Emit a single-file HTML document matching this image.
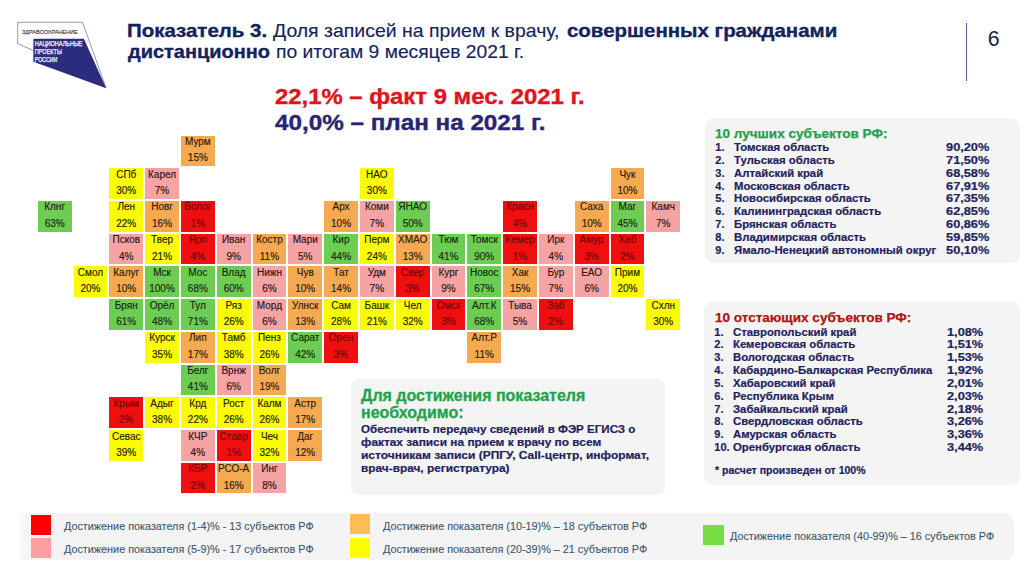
<!DOCTYPE html>
<html><head><meta charset="utf-8">
<style>
*{margin:0;padding:0;box-sizing:border-box}
html,body{width:1024px;height:574px;overflow:hidden;background:#fff;font-family:"Liberation Sans",sans-serif}
.abs{position:absolute}
.c{position:absolute;width:33.9px;height:30.8px;font-size:10px;color:#1e1e1e;text-align:center;-webkit-text-stroke:0.15px currentColor}
.c .n{position:absolute;left:-4px;right:-4px;top:0.6px;line-height:11px;white-space:nowrap}
.c .p{position:absolute;left:-4px;right:-4px;top:16.9px;line-height:11px;white-space:nowrap}
.R{background:#ef0f0f;color:#6e0505}
.P{background:#f5a3a3;color:#2a1616}
.O{background:#f5aa52;color:#2a1a0c}
.Y{background:#fbfb05;color:#222200}
.G{background:#6dcd53;color:#142a10}
.title{position:absolute;left:127px;top:21.3px;font-size:18.5px;line-height:20.4px;color:#14235a;white-space:nowrap;transform:scaleX(1.085);transform-origin:0 0}
.tt{position:absolute;font-size:18.5px;line-height:20.4px;color:#14235a;white-space:nowrap;transform-origin:0 0;-webkit-text-stroke:0.15px #14235a}
.tt.b{font-weight:bold;-webkit-text-stroke:0.35px #14235a}
.title b{font-weight:bold}
.big{position:absolute;left:275px;font-size:22.8px;font-weight:bold;white-space:nowrap;line-height:24px;transform:scaleX(1.047);transform-origin:0 0;-webkit-text-stroke:0.4px currentColor}
.panel{position:absolute;background:#f4f4f4;border-radius:9px}
.li{position:absolute;left:0;right:0;height:13px;font-size:11px;font-weight:bold;color:#1f1f5c;line-height:13px;white-space:nowrap;-webkit-text-stroke:0.2px #1f1f5c}
.li .num{position:absolute;left:10.3px}
.li .txt{position:absolute;left:29px;transform:scaleX(1.03);transform-origin:0 0}
.li .pc{position:absolute;transform:scaleX(1.16);transform-origin:100% 0}
.leg{position:absolute;font-size:10.5px;color:#3d566e;white-space:nowrap;line-height:12px;-webkit-text-stroke:0.1px #3d566e;transform:scaleX(1.03);transform-origin:0 0}
.sq{position:absolute;width:20px;height:20px}
.bl{position:absolute;left:10.2px;font-size:11px;font-weight:bold;color:#222260;line-height:12.6px;white-space:nowrap;-webkit-text-stroke:0.2px #222260;transform-origin:0 0}
</style></head><body>
<svg class="abs" style="left:0;top:0" width="120" height="100" viewBox="0 0 120 100">
<polyline points="33.6,50.6 17.7,43.6 17.7,22.3 82.5,22.3 106.2,88.2" fill="none" stroke="#6b6b95" stroke-width="0.7"/>
<polygon points="33.4,38.7 83.9,38.7 106.2,88.2 33.4,61.7" fill="#2c2c7e"/>
<text x="21.9" y="33.8" font-family="Liberation Sans" font-size="5.8" fill="#2a2a3a" stroke="#2a2a3a" stroke-width="0.1" textLength="55.7" lengthAdjust="spacingAndGlyphs">ЗДРАВООХРАНЕНИЕ</text>
<text x="34.8" y="46.4" font-family="Liberation Sans" font-size="7.7" fill="#fff" stroke="#fff" stroke-width="0.25" textLength="47.7" lengthAdjust="spacingAndGlyphs">НАЦИОНАЛЬНЫЕ</text>
<text x="34.8" y="54.3" font-family="Liberation Sans" font-size="7.7" fill="#fff" stroke="#fff" stroke-width="0.25" textLength="27.1" lengthAdjust="spacingAndGlyphs">ПРОЕКТЫ</text>
<text x="34.8" y="61.7" font-family="Liberation Sans" font-size="7.7" fill="#fff" stroke="#fff" stroke-width="0.25" textLength="22.6" lengthAdjust="spacingAndGlyphs">РОССИИ</text>
</svg>
<div class="tt b" style="left:126.9px;top:21.2px;transform:scaleX(1.106)">Показатель 3.</div>
<div class="tt" style="left:273.3px;top:21.2px;transform:scaleX(1.051)">Доля записей на прием к врачу,</div>
<div class="tt b" style="left:566.8px;top:21.2px;transform:scaleX(1.105)">совершенных гражданами</div>
<div class="tt b" style="left:128px;top:41.7px;transform:scaleX(1.079)">дистанционно</div>
<div class="tt" style="left:276.3px;top:41.7px;transform:scaleX(1.042)">по итогам 9 месяцев 2021 г.</div>
<div class="abs" style="left:966px;top:22.5px;width:1.3px;height:58px;background:#5c5c8c"></div>
<div class="abs" style="left:987.7px;top:26.7px;font-size:21.3px;line-height:24px;color:#1c1c44">6</div>
<div class="big" style="top:84px;color:#e0141e">22,1% – факт 9 мес. 2021 г.</div>
<div class="big" style="top:109.5px;color:#262673;transform:scaleX(1.063)">40,0% – план на 2021 г.</div>
<div class="c O" style="left:180.9px;top:135.5px"><span class="n">Мурм</span><span class="p">15%</span></div>
<div class="c Y" style="left:109.3px;top:168.2px"><span class="n">СПб</span><span class="p">30%</span></div>
<div class="c P" style="left:145.1px;top:168.2px"><span class="n">Карел</span><span class="p">7%</span></div>
<div class="c Y" style="left:359.9px;top:168.2px"><span class="n">НАО</span><span class="p">30%</span></div>
<div class="c O" style="left:610.5px;top:168.2px"><span class="n">Чук</span><span class="p">10%</span></div>
<div class="c G" style="left:37.7px;top:200.9px"><span class="n">Клнг</span><span class="p">63%</span></div>
<div class="c Y" style="left:109.3px;top:200.9px"><span class="n">Лен</span><span class="p">22%</span></div>
<div class="c O" style="left:145.1px;top:200.9px"><span class="n">Новг</span><span class="p">16%</span></div>
<div class="c R" style="left:180.9px;top:200.9px"><span class="n">Волог</span><span class="p">1%</span></div>
<div class="c O" style="left:324.1px;top:200.9px"><span class="n">Арх</span><span class="p">10%</span></div>
<div class="c P" style="left:359.9px;top:200.9px"><span class="n">Коми</span><span class="p">7%</span></div>
<div class="c G" style="left:395.7px;top:200.9px"><span class="n">ЯНАО</span><span class="p">50%</span></div>
<div class="c R" style="left:503.1px;top:200.9px"><span class="n">Красн</span><span class="p">4%</span></div>
<div class="c O" style="left:574.7px;top:200.9px"><span class="n">Саха</span><span class="p">10%</span></div>
<div class="c G" style="left:610.5px;top:200.9px"><span class="n">Маг</span><span class="p">45%</span></div>
<div class="c P" style="left:646.3px;top:200.9px"><span class="n">Камч</span><span class="p">7%</span></div>
<div class="c P" style="left:109.3px;top:233.7px"><span class="n">Псков</span><span class="p">4%</span></div>
<div class="c Y" style="left:145.1px;top:233.7px"><span class="n">Твер</span><span class="p">21%</span></div>
<div class="c R" style="left:180.9px;top:233.7px"><span class="n">Яро</span><span class="p">4%</span></div>
<div class="c P" style="left:216.7px;top:233.7px"><span class="n">Иван</span><span class="p">9%</span></div>
<div class="c O" style="left:252.5px;top:233.7px"><span class="n">Костр</span><span class="p">11%</span></div>
<div class="c P" style="left:288.3px;top:233.7px"><span class="n">Мари</span><span class="p">5%</span></div>
<div class="c G" style="left:324.1px;top:233.7px"><span class="n">Кир</span><span class="p">44%</span></div>
<div class="c Y" style="left:359.9px;top:233.7px"><span class="n">Перм</span><span class="p">24%</span></div>
<div class="c O" style="left:395.7px;top:233.7px"><span class="n">ХМАО</span><span class="p">13%</span></div>
<div class="c G" style="left:431.5px;top:233.7px"><span class="n">Тюм</span><span class="p">41%</span></div>
<div class="c G" style="left:467.3px;top:233.7px"><span class="n">Томск</span><span class="p">90%</span></div>
<div class="c R" style="left:503.1px;top:233.7px"><span class="n">Кемер</span><span class="p">1%</span></div>
<div class="c P" style="left:538.9px;top:233.7px"><span class="n">Ирк</span><span class="p">4%</span></div>
<div class="c R" style="left:574.7px;top:233.7px"><span class="n">Амур</span><span class="p">3%</span></div>
<div class="c R" style="left:610.5px;top:233.7px"><span class="n">Хаб</span><span class="p">2%</span></div>
<div class="c Y" style="left:73.5px;top:266.4px"><span class="n">Смол</span><span class="p">20%</span></div>
<div class="c O" style="left:109.3px;top:266.4px"><span class="n">Калуг</span><span class="p">10%</span></div>
<div class="c G" style="left:145.1px;top:266.4px"><span class="n">Мск</span><span class="p">100%</span></div>
<div class="c G" style="left:180.9px;top:266.4px"><span class="n">Мос</span><span class="p">68%</span></div>
<div class="c G" style="left:216.7px;top:266.4px"><span class="n">Влад</span><span class="p">60%</span></div>
<div class="c P" style="left:252.5px;top:266.4px"><span class="n">Нижн</span><span class="p">6%</span></div>
<div class="c O" style="left:288.3px;top:266.4px"><span class="n">Чув</span><span class="p">10%</span></div>
<div class="c O" style="left:324.1px;top:266.4px"><span class="n">Тат</span><span class="p">14%</span></div>
<div class="c P" style="left:359.9px;top:266.4px"><span class="n">Удм</span><span class="p">7%</span></div>
<div class="c R" style="left:395.7px;top:266.4px"><span class="n">Свер</span><span class="p">3%</span></div>
<div class="c P" style="left:431.5px;top:266.4px"><span class="n">Кург</span><span class="p">9%</span></div>
<div class="c G" style="left:467.3px;top:266.4px"><span class="n">Новос</span><span class="p">67%</span></div>
<div class="c O" style="left:503.1px;top:266.4px"><span class="n">Хак</span><span class="p">15%</span></div>
<div class="c P" style="left:538.9px;top:266.4px"><span class="n">Бур</span><span class="p">7%</span></div>
<div class="c P" style="left:574.7px;top:266.4px"><span class="n">ЕАО</span><span class="p">6%</span></div>
<div class="c Y" style="left:610.5px;top:266.4px"><span class="n">Прим</span><span class="p">20%</span></div>
<div class="c G" style="left:109.3px;top:299.1px"><span class="n">Брян</span><span class="p">61%</span></div>
<div class="c G" style="left:145.1px;top:299.1px"><span class="n">Орёл</span><span class="p">48%</span></div>
<div class="c G" style="left:180.9px;top:299.1px"><span class="n">Тул</span><span class="p">71%</span></div>
<div class="c Y" style="left:216.7px;top:299.1px"><span class="n">Ряз</span><span class="p">26%</span></div>
<div class="c P" style="left:252.5px;top:299.1px"><span class="n">Морд</span><span class="p">6%</span></div>
<div class="c O" style="left:288.3px;top:299.1px"><span class="n">Улнск</span><span class="p">13%</span></div>
<div class="c Y" style="left:324.1px;top:299.1px"><span class="n">Сам</span><span class="p">28%</span></div>
<div class="c Y" style="left:359.9px;top:299.1px"><span class="n">Башк</span><span class="p">21%</span></div>
<div class="c Y" style="left:395.7px;top:299.1px"><span class="n">Чел</span><span class="p">32%</span></div>
<div class="c R" style="left:431.5px;top:299.1px"><span class="n">Омск</span><span class="p">3%</span></div>
<div class="c G" style="left:467.3px;top:299.1px"><span class="n">Алт.К</span><span class="p">68%</span></div>
<div class="c P" style="left:503.1px;top:299.1px"><span class="n">Тыва</span><span class="p">5%</span></div>
<div class="c R" style="left:538.9px;top:299.1px"><span class="n">Заб</span><span class="p">2%</span></div>
<div class="c Y" style="left:646.3px;top:299.1px"><span class="n">Схлн</span><span class="p">30%</span></div>
<div class="c Y" style="left:145.1px;top:331.8px"><span class="n">Курск</span><span class="p">35%</span></div>
<div class="c O" style="left:180.9px;top:331.8px"><span class="n">Лип</span><span class="p">17%</span></div>
<div class="c Y" style="left:216.7px;top:331.8px"><span class="n">Тамб</span><span class="p">38%</span></div>
<div class="c Y" style="left:252.5px;top:331.8px"><span class="n">Пенз</span><span class="p">26%</span></div>
<div class="c G" style="left:288.3px;top:331.8px"><span class="n">Сарат</span><span class="p">42%</span></div>
<div class="c R" style="left:324.1px;top:331.8px"><span class="n">Орен</span><span class="p">3%</span></div>
<div class="c O" style="left:467.3px;top:331.8px"><span class="n">Алт.Р</span><span class="p">11%</span></div>
<div class="c G" style="left:180.9px;top:364.5px"><span class="n">Белг</span><span class="p">41%</span></div>
<div class="c P" style="left:216.7px;top:364.5px"><span class="n">Врнж</span><span class="p">6%</span></div>
<div class="c O" style="left:252.5px;top:364.5px"><span class="n">Волг</span><span class="p">19%</span></div>
<div class="c R" style="left:109.3px;top:397.3px"><span class="n">Крым</span><span class="p">2%</span></div>
<div class="c Y" style="left:145.1px;top:397.3px"><span class="n">Адыг</span><span class="p">38%</span></div>
<div class="c Y" style="left:180.9px;top:397.3px"><span class="n">Крд</span><span class="p">22%</span></div>
<div class="c Y" style="left:216.7px;top:397.3px"><span class="n">Рост</span><span class="p">26%</span></div>
<div class="c Y" style="left:252.5px;top:397.3px"><span class="n">Калм</span><span class="p">26%</span></div>
<div class="c O" style="left:288.3px;top:397.3px"><span class="n">Астр</span><span class="p">17%</span></div>
<div class="c Y" style="left:109.3px;top:430.0px"><span class="n">Севас</span><span class="p">39%</span></div>
<div class="c P" style="left:180.9px;top:430.0px"><span class="n">КЧР</span><span class="p">4%</span></div>
<div class="c R" style="left:216.7px;top:430.0px"><span class="n">Ставр</span><span class="p">1%</span></div>
<div class="c Y" style="left:252.5px;top:430.0px"><span class="n">Чеч</span><span class="p">32%</span></div>
<div class="c O" style="left:288.3px;top:430.0px"><span class="n">Даг</span><span class="p">12%</span></div>
<div class="c R" style="left:180.9px;top:462.7px"><span class="n">КБР</span><span class="p">2%</span></div>
<div class="c O" style="left:216.7px;top:462.7px"><span class="n">РСО-А</span><span class="p">16%</span></div>
<div class="c P" style="left:252.5px;top:462.7px"><span class="n">Инг</span><span class="p">8%</span></div>
<div class="panel" style="left:704.7px;top:117.8px;width:315px;height:145px">
<div class="abs" style="left:10px;top:8px;font-size:13px;font-weight:bold;color:#22a04b;white-space:nowrap;transform:scaleX(1.04);transform-origin:0 0;-webkit-text-stroke:0.25px #22a04b">10 лучших субъектов РФ:</div>
</div>
<div class="abs" style="left:705px;top:0;width:314px;height:574px">
<div class="li" style="top:141.0px"><span class="num">1.</span><span class="txt">Томская область</span><span class="pc" style="right:30px">90,20%</span></div>
<div class="li" style="top:153.8px"><span class="num">2.</span><span class="txt">Тульская область</span><span class="pc" style="right:30px">71,50%</span></div>
<div class="li" style="top:166.7px"><span class="num">3.</span><span class="txt">Алтайский край</span><span class="pc" style="right:30px">68,58%</span></div>
<div class="li" style="top:179.6px"><span class="num">4.</span><span class="txt">Московская область</span><span class="pc" style="right:30px">67,91%</span></div>
<div class="li" style="top:192.4px"><span class="num">5.</span><span class="txt">Новосибирская область</span><span class="pc" style="right:30px">67,35%</span></div>
<div class="li" style="top:205.2px"><span class="num">6.</span><span class="txt">Калининградская область</span><span class="pc" style="right:30px">62,85%</span></div>
<div class="li" style="top:218.1px"><span class="num">7.</span><span class="txt">Брянская область</span><span class="pc" style="right:30px">60,86%</span></div>
<div class="li" style="top:230.9px"><span class="num">8.</span><span class="txt">Владимирская область</span><span class="pc" style="right:30px">59,85%</span></div>
<div class="li" style="top:243.8px"><span class="num">9.</span><span class="txt">Ямало-Ненецкий автономный округ</span><span class="pc" style="right:30px">50,10%</span></div>
</div>
<div class="panel" style="left:704px;top:301px;width:315.5px;height:183.5px">
<div class="abs" style="left:11px;top:9.0px;font-size:13px;font-weight:bold;color:#b01212;white-space:nowrap;transform:scaleX(1.04);transform-origin:0 0;-webkit-text-stroke:0.25px #b01212">10 отстающих субъектов РФ:</div>
<div class="abs" style="left:11px;top:164px;font-size:10px;font-weight:bold;color:#1f1f5c;white-space:nowrap;transform:scaleX(1.05);transform-origin:0 0;-webkit-text-stroke:0.2px #1f1f5c">* расчет произведен от 100%</div>
</div>
<div class="abs" style="left:704px;top:0;width:315px;height:574px">
<div class="li" style="top:325.6px"><span class="num">1.</span><span class="txt">Ставропольский край</span><span class="pc" style="right:36px">1,08%</span></div>
<div class="li" style="top:338.4px"><span class="num">2.</span><span class="txt">Кемеровская область</span><span class="pc" style="right:36px">1,51%</span></div>
<div class="li" style="top:351.2px"><span class="num">3.</span><span class="txt">Вологодская область</span><span class="pc" style="right:36px">1,53%</span></div>
<div class="li" style="top:364.0px"><span class="num">4.</span><span class="txt">Кабардино-Балкарская Республика</span><span class="pc" style="right:36px">1,92%</span></div>
<div class="li" style="top:376.8px"><span class="num">5.</span><span class="txt">Хабаровский край</span><span class="pc" style="right:36px">2,01%</span></div>
<div class="li" style="top:389.7px"><span class="num">6.</span><span class="txt">Республика Крым</span><span class="pc" style="right:36px">2,03%</span></div>
<div class="li" style="top:402.5px"><span class="num">7.</span><span class="txt">Забайкальский край</span><span class="pc" style="right:36px">2,18%</span></div>
<div class="li" style="top:415.3px"><span class="num">8.</span><span class="txt">Свердловская область</span><span class="pc" style="right:36px">3,26%</span></div>
<div class="li" style="top:428.1px"><span class="num">9.</span><span class="txt">Амурская область</span><span class="pc" style="right:36px">3,36%</span></div>
<div class="li" style="top:440.9px"><span class="num">10.</span><span class="txt">Оренбургская область</span><span class="pc" style="right:36px">3,44%</span></div>
</div>
<div class="panel" style="left:350.8px;top:378.8px;width:314.5px;height:116.5px;border-radius:7px">
<div class="abs" style="left:10.2px;top:9.2px;font-size:16px;font-weight:bold;color:#1fa34a;line-height:16.6px;-webkit-text-stroke:0.3px #1fa34a">Для достижения показателя<br>необходимо:</div>
<div class="bl" style="top:44.30px;transform:scaleX(1.052)">Обеспечить передачу сведений в ФЭР ЕГИСЗ о</div>
<div class="bl" style="top:57.15px;transform:scaleX(1.08)">фактах записи на прием к врачу по всем</div>
<div class="bl" style="top:70.00px;transform:scaleX(1.09)">источникам записи (РПГУ, Call-центр, информат,</div>
<div class="bl" style="top:82.85px;transform:scaleX(1.077)">врач-врач, регистратура)</div>
</div>
<div class="panel" style="left:20px;top:513px;width:994px;height:47px;border-radius:0 9px 9px 0;background:linear-gradient(90deg,#fafafa 0px,#f4f4f4 10px)"></div>
<div class="sq" style="left:31px;top:515px;background:#ff0000"></div>
<div class="sq" style="left:31px;top:538px;background:#ffa0a0"></div>
<div class="leg" style="left:64px;top:520px">Достижение показателя (1-4)% - 13 субъектов РФ</div>
<div class="leg" style="left:64px;top:543px">Достижение показателя (5-9)% - 17 субъектов РФ</div>
<div class="sq" style="left:350px;top:514px;background:#fcbd55"></div>
<div class="sq" style="left:350px;top:538px;background:#ffff00"></div>
<div class="leg" style="left:383px;top:520px">Достижение показателя (10-19)% – 18 субъектов РФ</div>
<div class="leg" style="left:383px;top:543px">Достижение показателя (20-39)% – 21 субъектов РФ</div>
<div class="sq" style="left:703px;top:524.5px;width:20.7px;background:#77dd44"></div>
<div class="leg" style="left:730px;top:529.8px">Достижение показателя (40-99)% – 16 субъектов РФ</div>
</body></html>
